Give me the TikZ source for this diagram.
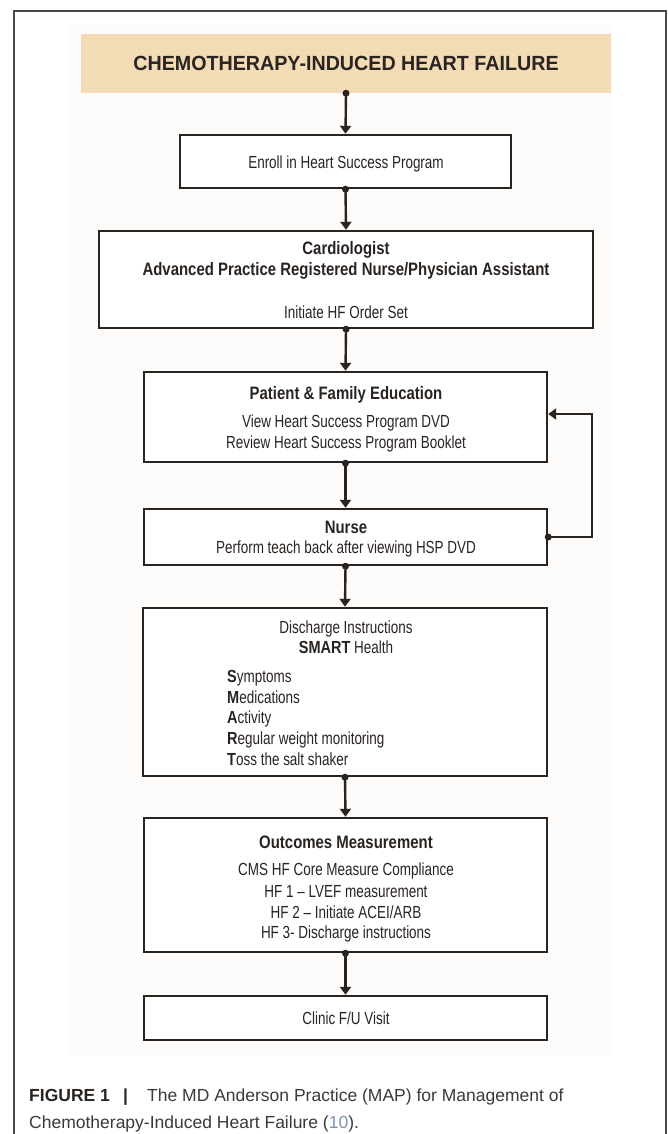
\documentclass[tikz,border=0pt]{standalone}
\usepackage{fontspec}
\setmainfont{Liberation Sans}
\newfontfamily\cond{Liberation Sans}[FakeStretch=0.77]
\newfontfamily\condb{Liberation Sans}[FakeStretch=0.83]
\newfontfamily\titlef{Liberation Sans}[FakeStretch=0.96]
\usetikzlibrary{arrows.meta}
\definecolor{ink}{HTML}{2A2421}
\definecolor{tanfill}{HTML}{F3DBB6}
\definecolor{framec}{HTML}{4A4A4A}
\definecolor{capc}{HTML}{3A3A3A}
\definecolor{refc}{HTML}{7D93AD}
\definecolor{faint}{HTML}{FDFCFB}
\tikzset{
  box/.style={draw=ink, line width=2.4pt, fill=white, inner sep=0pt},
  rt/.style={anchor=base, inner sep=0pt, text=ink, font=\cond\fontsize{17.5}{21}\selectfont},
  bt/.style={anchor=base, inner sep=0pt, text=ink, font=\condb\bfseries\fontsize{18}{21}\selectfont},
  lt/.style={rt, anchor=base west},
  conn/.style={draw=ink, line width=2.4pt, -{Triangle[length=8pt,width=11pt]}},
  capt/.style={anchor=base west, inner sep=0pt, text=capc, font=\fontsize{17.5}{21}\selectfont},
}
\newcommand{\bl}[1]{{\condb\bfseries #1}}
\begin{document}
\begin{tikzpicture}[x=1pt,y=-1pt]
\useasboundingbox (0,0) rectangle (668,1134);
\fill[white] (0,0) rectangle (668,1134);
% outer frame (open at bottom)
\draw[framec, line width=1.2pt] (14,1140) -- (14,11) -- (666,11) -- (666,1140);
% faint figure background
\fill[faint] (68,25) rectangle (613,1055);

% boxes
\node[fill=tanfill, inner sep=0pt, minimum width=530pt, minimum height=59pt] (title) at (346,63.5) {};
\node[box, minimum width=331pt, minimum height=53pt] (enroll) at (345.5,161.5) {};
\node[box, minimum width=494pt, minimum height=97pt] (cardio) at (346,279.5) {};
\node[box, minimum width=403pt, minimum height=90pt] (pfe) at (345.5,417) {};
\node[box, minimum width=403pt, minimum height=56pt] (nurse) at (345.5,537) {};
\node[box, minimum width=404pt, minimum height=168pt] (disc) at (345,692) {};
\node[box, minimum width=403pt, minimum height=134pt] (outc) at (345.5,885) {};
\node[box, minimum width=403pt, minimum height=44pt] (clinic) at (345.5,1018) {};

% texts
\node[anchor=base, inner sep=0pt, text=ink, font=\titlef\bfseries\fontsize{20.5}{24}\selectfont] (ttitle) at (346,71) {CHEMOTHERAPY-INDUCED HEART FAILURE};
\node[rt] (tenroll) at (346,168) {Enroll in Heart Success Program};
\node[bt] (tc1) at (346,254) {Cardiologist};
\node[bt] (tc2) at (346,275) {Advanced Practice Registered Nurse/Physician Assistant};
\node[rt] (tc3) at (346,318) {Initiate HF Order Set};
\node[bt] (tp1) at (346,399) {Patient \& Family Education};
\node[rt] (tp2) at (346,427) {View Heart Success Program DVD};
\node[rt] (tp3) at (346,448) {Review Heart Success Program Booklet};
\node[bt] (tn1) at (346,533) {Nurse};
\node[rt] (tn2) at (346,553) {Perform teach back after viewing HSP DVD};
\node[rt] (td1) at (346,633) {Discharge Instructions};
\node[rt] (td2) at (346,653) {\bl{SMART} Health};
\node[lt] (ts) at (227,682) {\bl{S}ymptoms};
\node[lt] (tm) at (227,703) {\bl{M}edications};
\node[lt] (ta) at (227,723) {\bl{A}ctivity};
\node[lt] (tr) at (227,744) {\bl{R}egular weight monitoring};
\node[lt] (tt) at (227,765) {\bl{T}oss the salt shaker};
\node[bt] (to1) at (346,848) {Outcomes Measurement};
\node[rt] (to2) at (346,875) {CMS HF Core Measure Compliance};
\node[rt] (to3) at (346,897) {HF 1 \textendash\ LVEF measurement};
\node[rt] (to4) at (346,918) {HF 2 \textendash\ Initiate ACEI/ARB};
\node[rt] (to5) at (346,938) {HF 3- Discharge instructions};
\node[rt] (tcl) at (346,1024) {Clinic F/U Visit};

% connectors
\foreach \a/\b in {title/enroll, enroll/cardio, cardio/pfe, pfe/nurse, nurse/disc, disc/outc, outc/clinic}{
  \draw[conn] (\a.south) -- (\b.north);
  \fill[ink] (\a.south) circle (3.5pt);
}
\draw[conn] (nurse.east) -- ++(44,0) |- ([yshift=3pt]pfe.east);
\fill[ink] (nurse.east) circle (3.5pt);

% caption
\node[capt, font=\bfseries\fontsize{17.5}{21}\selectfont, text=ink] (fig) at (29,1101) {FIGURE 1};
\node[capt, font=\bfseries\fontsize{17.5}{21}\selectfont, text=ink] (bar) at (123,1101) {|};
\node[capt] (cap1) at (147,1101) {The MD Anderson Practice (MAP) for Management of};
\node[capt] (cap2) at (29,1128) {Chemotherapy-Induced Heart Failure (\textcolor{refc}{10}).};
\end{tikzpicture}
\end{document}
